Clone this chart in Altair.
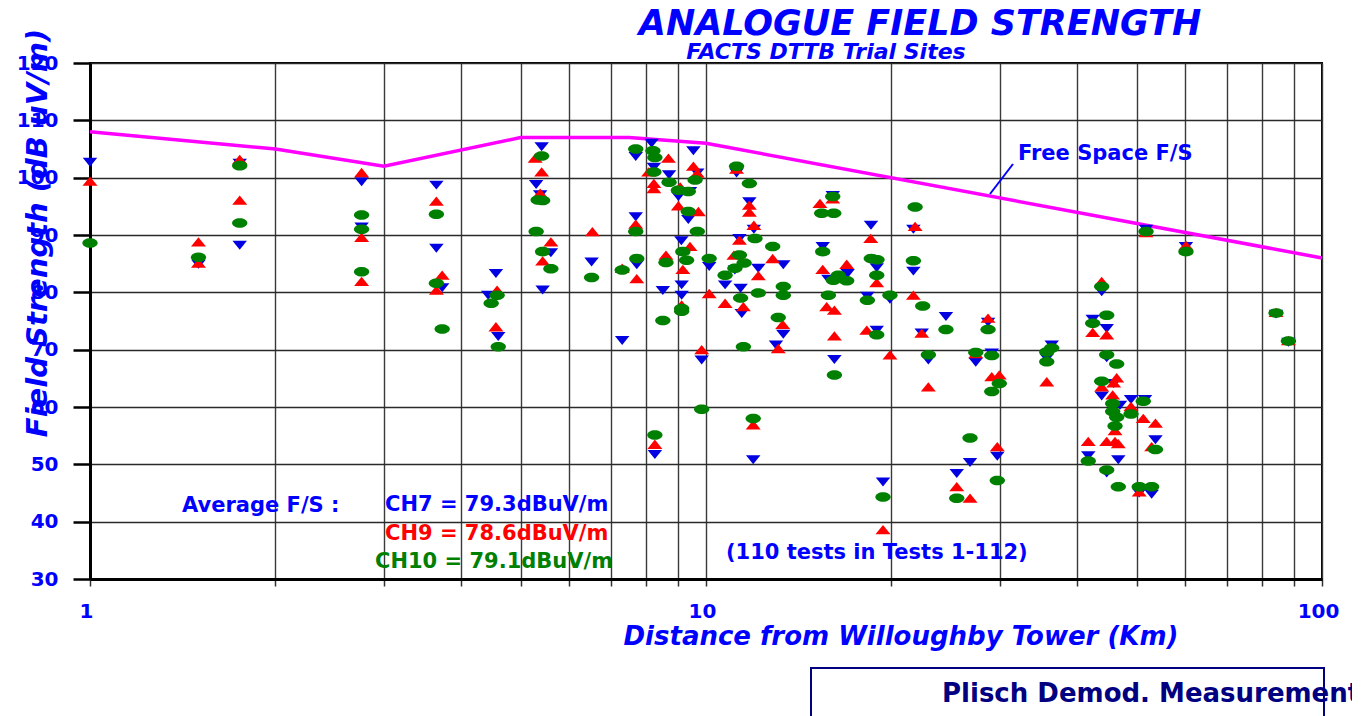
import altair as alt
import pandas as pd

# ---------------- data ----------------
# CH7 (blue, down triangles): (distance km, field strength dBuV/m)
ch7 = [(1.0, 102.7), (1.5, 84.9), (1.75, 102.5), (1.75, 88.2), (2.76, 99.3), (2.76, 91.4),
       (3.65, 98.7), (3.65, 87.7), (3.73, 80.8), (4.43, 79.5), (4.56, 83.3), (4.60, 72.3),
       (5.41, 105.4), (5.30, 98.8), (5.38, 97.0), (5.60, 86.9), (5.43, 80.4), (6.52, 85.3),
       (7.31, 71.6), (7.69, 103.7), (7.69, 93.2), (7.72, 84.8), (8.16, 106.0), (8.23, 101.8),
       (8.71, 100.5), (8.51, 80.3), (8.26, 51.7), (9.54, 104.7), (9.68, 100.8), (9.02, 96.7),
       (9.36, 92.7), (9.42, 97.6), (9.12, 89.0), (9.13, 81.3), (9.13, 79.5), (10.12, 84.5),
       (9.84, 68.2), (11.21, 100.8), (11.76, 95.8), (11.96, 91.0), (11.33, 89.4), (11.14, 83.9),
       (10.74, 81.3), (11.38, 80.7), (11.43, 76.3), (11.93, 50.8), (12.16, 84.2), (13.35, 84.8),
       (13.35, 72.7), (12.99, 70.8), (15.47, 88.0), (15.80, 82.3), (16.06, 96.9), (16.98, 83.3),
       (16.16, 68.3), (18.53, 91.7), (18.93, 84.3), (18.28, 79.3), (18.93, 73.4), (19.89, 78.8),
       (19.38, 46.9), (21.71, 91.0), (21.71, 83.7), (22.40, 72.9), (22.96, 68.2), (24.52, 75.8),
       (25.53, 48.4), (26.83, 50.3), (27.41, 67.8), (28.70, 74.8), (29.10, 69.4), (29.71, 51.4),
       (36.41, 70.8), (35.74, 68.5), (43.89, 80.1), (42.44, 75.3), (44.72, 73.7), (44.72, 68.6),
       (45.90, 64.1), (43.89, 61.9), (47.00, 60.3), (48.97, 61.3), (51.60, 61.3), (53.66, 54.3),
       (41.74, 51.5), (46.70, 50.8), (44.72, 48.5), (50.50, 45.0), (52.90, 44.8), (51.80, 91.0),
       (60.14, 88.0), (84.20, 76.2), (88.20, 71.3)]

# CH9 (red, up triangles)
ch9 = [(1.0, 99.4), (1.5, 88.8), (1.5, 85.1), (1.75, 103.2), (1.75, 96.1), (2.76, 100.9),
       (2.76, 89.6), (2.76, 81.9), (3.65, 95.9), (3.73, 83.0), (3.65, 80.4), (4.58, 80.4),
       (4.56, 74.0), (5.28, 103.4), (5.41, 101.0), (5.38, 97.3), (5.60, 88.8), (5.43, 85.5),
       (6.54, 90.6), (7.31, 84.2), (7.69, 91.9), (7.72, 82.4), (8.07, 101.0), (8.23, 99.0),
       (8.23, 98.1), (8.69, 103.4), (8.61, 86.5), (8.26, 53.5), (9.54, 102.0), (9.68, 100.8),
       (9.08, 98.4), (9.02, 95.1), (9.72, 94.1), (9.42, 88.0), (9.17, 84.0), (9.13, 77.8),
       (10.12, 79.8), (9.84, 70.0), (11.21, 101.5), (11.76, 95.2), (11.76, 94.0), (11.96, 91.7),
       (11.33, 89.1), (11.10, 86.5), (12.16, 82.9), (10.74, 78.1), (11.50, 77.5), (12.83, 85.9),
       (13.32, 74.4), (13.10, 70.2), (11.93, 56.9), (15.31, 95.5), (16.06, 96.3), (15.47, 84.0),
       (16.92, 84.9), (15.70, 77.5), (16.16, 76.9), (16.16, 72.4), (18.51, 89.4), (18.93, 81.7),
       (18.24, 73.4), (19.89, 69.1), (19.38, 38.6), (21.85, 91.5), (21.71, 79.5), (22.40, 72.9),
       (22.96, 63.5), (25.53, 46.1), (26.83, 44.1), (27.41, 69.3), (28.70, 75.5), (29.10, 65.3),
       (29.93, 65.6), (29.71, 53.1), (35.74, 64.4), (43.89, 81.9), (42.44, 73.0), (44.72, 72.6),
       (43.89, 63.5), (46.42, 65.1), (45.90, 64.2), (45.73, 62.1), (48.97, 60.1), (51.27, 58.0),
       (53.66, 57.2), (46.13, 55.9), (41.74, 54.0), (44.72, 54.0), (46.13, 54.0), (46.70, 53.6),
       (52.90, 53.1), (50.50, 45.2), (51.80, 90.4), (60.14, 88.2), (84.20, 76.5), (88.20, 71.6)]

# CH10 (green, ellipses)
ch10 = [(1.0, 88.6), (1.5, 86.1), (1.75, 102.1), (1.75, 92.1), (2.76, 93.5), (2.76, 91.0),
        (2.76, 83.6), (3.65, 93.6), (3.65, 81.6), (3.73, 73.6), (4.58, 79.5), (4.48, 78.1),
        (4.60, 70.5), (5.41, 103.8), (5.34, 96.1), (5.43, 96.0), (5.30, 90.6), (5.43, 87.1),
        (5.60, 84.1), (6.52, 82.6), (7.31, 83.9), (7.69, 105.0), (7.69, 90.6), (7.72, 85.9),
        (8.20, 104.7), (8.26, 103.5), (8.23, 101.0), (8.71, 99.2), (8.61, 85.2), (8.51, 75.1),
        (8.26, 55.1), (9.60, 99.6), (9.02, 97.8), (9.36, 97.6), (9.36, 94.1), (9.68, 90.6),
        (9.17, 87.1), (9.30, 85.6), (9.13, 77.2), (9.13, 76.7), (10.12, 85.9), (9.84, 59.6),
        (11.21, 102.0), (11.76, 99.0), (12.01, 89.4), (11.33, 86.5), (11.53, 85.1), (11.14, 84.2),
        (10.74, 83.0), (11.38, 79.0), (12.16, 79.9), (12.83, 88.0), (13.35, 81.0), (13.35, 79.5),
        (13.10, 75.6), (11.50, 70.5), (11.93, 58.0), (16.06, 96.7), (15.41, 93.8), (16.12, 93.8),
        (15.47, 87.1), (16.40, 83.0), (16.92, 82.0), (16.10, 82.1), (15.80, 79.5), (16.16, 65.6),
        (18.55, 85.9), (18.95, 85.7), (18.93, 83.0), (18.28, 78.6), (18.93, 72.6), (19.89, 79.5),
        (19.38, 44.3), (21.85, 94.9), (21.71, 85.5), (22.48, 77.6), (22.96, 69.1), (24.52, 73.5),
        (25.53, 44.1), (26.83, 54.6), (27.41, 69.5), (28.70, 73.5), (29.10, 69.0), (29.93, 64.1),
        (29.10, 62.7), (29.71, 47.2), (36.41, 70.3), (35.74, 69.6), (35.74, 67.9), (43.89, 81.0),
        (44.72, 76.0), (42.44, 74.6), (44.72, 69.1), (46.42, 67.5), (43.89, 64.5), (45.73, 60.6),
        (51.27, 61.0), (48.97, 58.8), (45.73, 59.2), (46.42, 58.2), (46.13, 56.7), (53.66, 52.6),
        (41.74, 50.6), (44.72, 49.0), (46.70, 46.1), (50.50, 46.1), (52.90, 46.1), (51.80, 90.6),
        (60.14, 87.1), (84.20, 76.4), (88.20, 71.5)]

free_space_km = [1, 2, 3, 5, 7.5, 10, 100]
free_space_db = [108, 105, 102, 107, 107, 106, 86]

x_grid = [1, 2, 3, 4, 5, 6, 7, 8, 9, 10, 20, 30, 40, 50, 60, 70, 80, 90, 100]
y_ticks = [30, 40, 50, 60, 70, 80, 90, 100, 110, 120]

TITLE = "ANALOGUE FIELD STRENGTH"
SUBTITLE = "FACTS DTTB Trial Sites"
X_TITLE = "Distance from Willoughby Tower (Km)"
Y_TITLE = "Field Strength (dB uV/m)"
AVG_LABEL = "Average F/S :"
CH7_TEXT = "CH7 = 79.3dBuV/m"
CH9_TEXT = "CH9 = 78.6dBuV/m"
CH10_TEXT = "CH10 = 79.1dBuV/m"
TESTS_TEXT = "(110 tests in Tests 1-112)"
FREE_TEXT = "Free Space F/S"
BOX_TEXT = "Plisch Demod. Measurements"

# ---------------- chart ----------------
FONT = "DejaVu Sans"
BLUE = "#0000FF"
NAVY = "#000080"

def frame(pairs):
    return pd.DataFrame(pairs, columns=["km", "db"])

xs = alt.Scale(type="log", domain=[1, 100], nice=False)
ys = alt.Scale(domain=[30, 120], nice=False, zero=False)

x_axis = alt.Axis(values=x_grid, grid=True, gridColor="#3a3a3a", gridWidth=1.4,
                  domainColor="black", domainWidth=3, tickColor="#333333", tickWidth=1.5,
                  tickSize=7, labelExpr="indexof([1, 10, 100], datum.value) >= 0 ? format(datum.value, 'd') : ''",
                  labelOverlap=False, labelFlush=False, labelFont=FONT, labelFontSize=20,
                  labelFontWeight="bold", labelColor=BLUE, labelPadding=15, labelOffset=-4, title=None)
y_axis = alt.Axis(values=y_ticks, grid=True, gridColor="#2a2a2a", gridWidth=1.3,
                  domainColor="black", domainWidth=3, tickColor="black", tickWidth=2.5,
                  tickSize=17, labelFont=FONT, labelFontSize=20, labelFontWeight="bold",
                  labelColor=BLUE, labelPadding=15, labelOverlap=False, labelFlush=False, title=None)

X_ENC = alt.X("km:Q", scale=xs, axis=x_axis)
Y_ENC = alt.Y("db:Q", scale=ys, axis=y_axis)

fs_df = pd.DataFrame({"km": free_space_km, "db": free_space_db})
line = alt.Chart(fs_df).mark_line(color="#FF00FF", strokeWidth=3.5).encode(x=X_ENC, y=Y_ENC)

TRI_DOWN = "M-1,-0.62L1,-0.62L0,0.62Z"
TRI_UP = "M-1,0.62L1,0.62L0,-0.62Z"
ELLIPSE = "M-1,0A1,0.62 0 1,1 1,0A1,0.62 0 1,1 -1,0Z"

def pts(pairs, shape, color, size):
    return alt.Chart(frame(pairs)).mark_point(shape=shape, filled=True, color=color,
                                              size=size, opacity=1, strokeWidth=0).encode(
        x=X_ENC, y=Y_ENC)

p7 = pts(ch7, TRI_DOWN, "#0000E0", 210)
p9 = pts(ch9, TRI_UP, "#FF0000", 225)
p10 = pts(ch10, ELLIPSE, "#008000", 235)

def txt(s, x, y, size, color=BLUE, italic=False, align="left", angle=0):
    kw = dict(font=FONT, fontSize=size, fontWeight="bold", color=color, align=align,
              baseline="alphabetic")
    if italic:
        kw["fontStyle"] = "italic"
    if angle:
        kw["angle"] = angle
        kw["baseline"] = "middle"
    return alt.Chart(pd.DataFrame({"t": [s]})).mark_text(**kw).encode(
        text="t:N", x=alt.value(x), y=alt.value(y))

title = txt(TITLE, 830, -28, 35, italic=True, align="center")
subtitle = txt(SUBTITLE, 736, -4, 22, italic=True, align="center")
xtitle = txt(X_TITLE, 811, 582, 26, italic=True, align="center")
ytitle = txt(Y_TITLE, -52, 170, 29, italic=True, align="center", angle=270)
avg = txt(AVG_LABEL, 92, 449, 21)
c7 = txt(CH7_TEXT, 295, 448, 21, color=BLUE)
c9 = txt(CH9_TEXT, 295, 477, 21, color="#FF0000")
c10 = txt(CH10_TEXT, 285, 505, 21, color="#008000")
tests = txt(TESTS_TEXT, 636, 496, 21)
free = txt(FREE_TEXT, 928, 97, 21)
box_text = txt(BOX_TEXT, 852, 639, 26, color=NAVY)

leader = alt.Chart(pd.DataFrame({"k": [0]})).mark_rule(color=BLUE, strokeWidth=2).encode(
    x=alt.value(900), x2=alt.value(923), y=alt.value(131), y2=alt.value(101))
box = alt.Chart(pd.DataFrame({"k": [0]})).mark_rect(fillOpacity=0, stroke=NAVY, strokeWidth=2).encode(
    x=alt.value(721), x2=alt.value(1234), y=alt.value(605), y2=alt.value(690))

chart = alt.layer(
    line, p7, p9, p10, leader, free, avg, c7, c9, c10, tests,
    title, subtitle, xtitle, ytitle, box, box_text
).properties(
    width=1232, height=516,
    autosize=alt.AutoSizeParams(type="none"),
    padding={"left": 82, "top": 55, "right": 30, "bottom": 137},
    background="white",
).configure_view(stroke="black", strokeWidth=2)

chart.save("out.html", embed_options={"renderer": "svg", "actions": False})
